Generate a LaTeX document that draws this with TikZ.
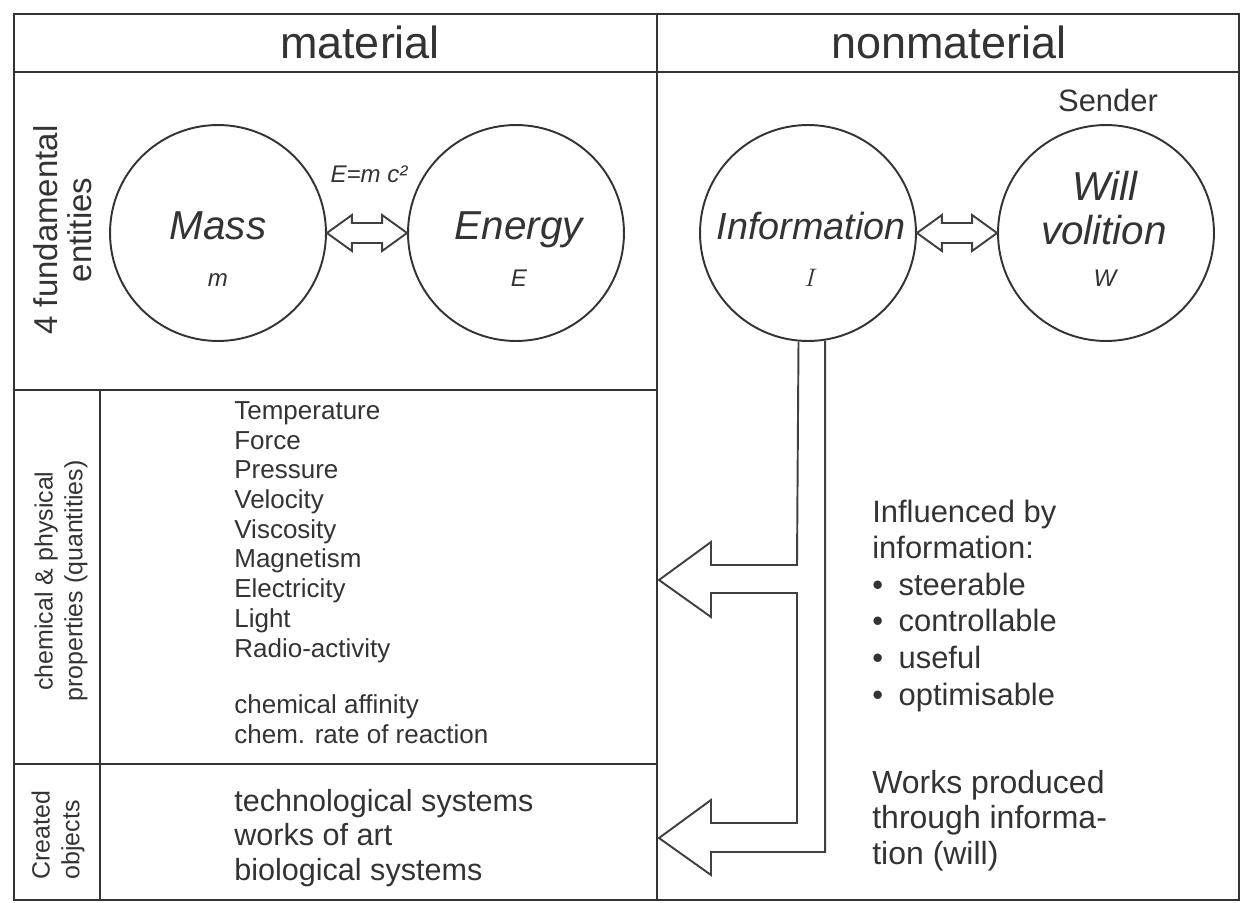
\documentclass[tikz,border=0pt]{standalone}
\usepackage{fontspec}
\setmainfont{Liberation Sans}
\usetikzlibrary{calc}

\begin{document}
\begin{tikzpicture}[x=0.02cm, y=-0.02cm,
    every node/.style={text=black!80, inner sep=0pt},
    lijn/.style={draw=black!80, line width=1.4pt},
    bol/.style={circle, draw=black!80, line width=1.1pt, minimum size=4.32cm},
    pijl/.style={draw=black!75, line width=1.1pt, line join=miter},
    kop/.style={font=\fontsize{25.6}{30}\selectfont, anchor=base},
    zij/.style={rotate=90, align=center, font=\fontsize{14.2}{17}\selectfont},
    naam/.style={font=\fontsize{23}{26}\selectfont\itshape, anchor=base},
    sym/.style={font=\fontsize{13.7}{16}\selectfont\itshape, anchor=base},
    lijst/.style={font=\fontsize{14.8}{16.9}\selectfont, align=left, anchor=base west}]

    \useasboundingbox (0,0) rectangle (1242,903);

    % raster van de tabel
    \draw[lijn] (14,14) rectangle (1239,900);
    \draw[lijn] (14,72) -- (1239,72);
    \draw[lijn] (657,14) -- (657,900);
    \draw[lijn] (14,390) -- (657,390);
    \draw[lijn] (14,764) -- (657,764);
    \draw[lijn] (100,390) -- (100,900);

    % kopjes
    \node[kop] (mat) at (360,58) {material};
    \node[kop] (nonmat) at (949,58) {nonmaterial};

    % zijlabels
    \node[zij, font=\fontsize{18.8}{19.3}\selectfont] (fund) at (63,230) {4 fundamental\\entities};
    \node[zij] (eig) at (61,581) {chemical \& physical\\properties (quantities)};
    \node[zij, align=left] (obj) at (58,835) {Created\\objects};

    % de vier entiteiten
    \node[bol] (mass) at (218,233) {};
    \node[bol] (energy) at (516,233) {};
    \node[bol] (info) at (808,233) {};
    \node[bol] (will) at (1106,233) {};

    \node[naam] (masst) at (218,239) {Mass};
    \node[sym] (massm) at (218,286) {m};
    \node[naam] (energyt) at (519,239) {Energy};
    \node[sym] (energye) at (519,286) {E};
    \node[naam, font=\fontsize{21.5}{26}\selectfont\itshape] (infot) at (811,239) {Information};
    \node[sym] (infoi) at (811,286) {$I$};
    \node[naam] (willt) at (1105,200) {Will};
    \node[naam] (volt) at (1104,244) {volition};
    \node[sym] (willw) at (1105,286) {W};

    \node[font=\fontsize{17.6}{20}\selectfont, anchor=base] (sender) at (1108,111) {Sender};
    \node[sym] (emc) at (369,182) {E=m c²};

    % dubbele pijlen tussen de bollen
    \draw[pijl] (mass.east) -- ++(25,-18) -- ++(0,8) -- ($(energy.west)+(-25,-10)$) -- ++(0,-8)
        -- (energy.west) -- ++(-25,18) -- ++(0,-8) -- ($(mass.east)+(25,10)$) -- ++(0,8) -- cycle;
    \draw[pijl] (info.east) -- ++(25,-18) -- ++(0,8) -- ($(will.west)+(-25,-10)$) -- ++(0,-8)
        -- (will.west) -- ++(-25,18) -- ++(0,-8) -- ($(info.east)+(25,10)$) -- ++(0,8) -- cycle;

    % informatie stuurt de materie
    \draw[pijl] (info.-81.5) -- (info.-81.5 |- 0,852) -- (711,852) -- (711,875) -- (659,838)
        -- (711,800) -- (711,823) -- (797,823) -- (797,593) -- (711,593) -- (711,617)
        -- (659,580) -- (711,542) -- (711,565) -- (797,565) -- (info.-95.8);

    % lijsten (basislijn = laatste regel)
    \node[lijst] (grootheden) at (234,657) {Temperature\\Force\\Pressure\\Velocity\\Viscosity\\Magnetism\\Electricity\\Light\\Radio-activity};
    \node[lijst] (chemie) at (234,743) {chemical affinity\\chem. rate of reaction};
    \node[lijst, font=\fontsize{17.4}{19.5}\selectfont] (werken) at (234,880) {technological systems\\works of art\\biological systems};
    \node[lijst, font=\fontsize{17.6}{20.8}\selectfont] (invloed) at (872,705) {Influenced by\\information:\\\textbullet\enspace steerable\\\textbullet\enspace controllable\\\textbullet\enspace useful\\\textbullet\enspace optimisable};
    \node[lijst, font=\fontsize{18.2}{20.2}\selectfont] (door) at (872,864) {Works produced\\through informa-\\tion (will)};
\end{tikzpicture}
\end{document}
